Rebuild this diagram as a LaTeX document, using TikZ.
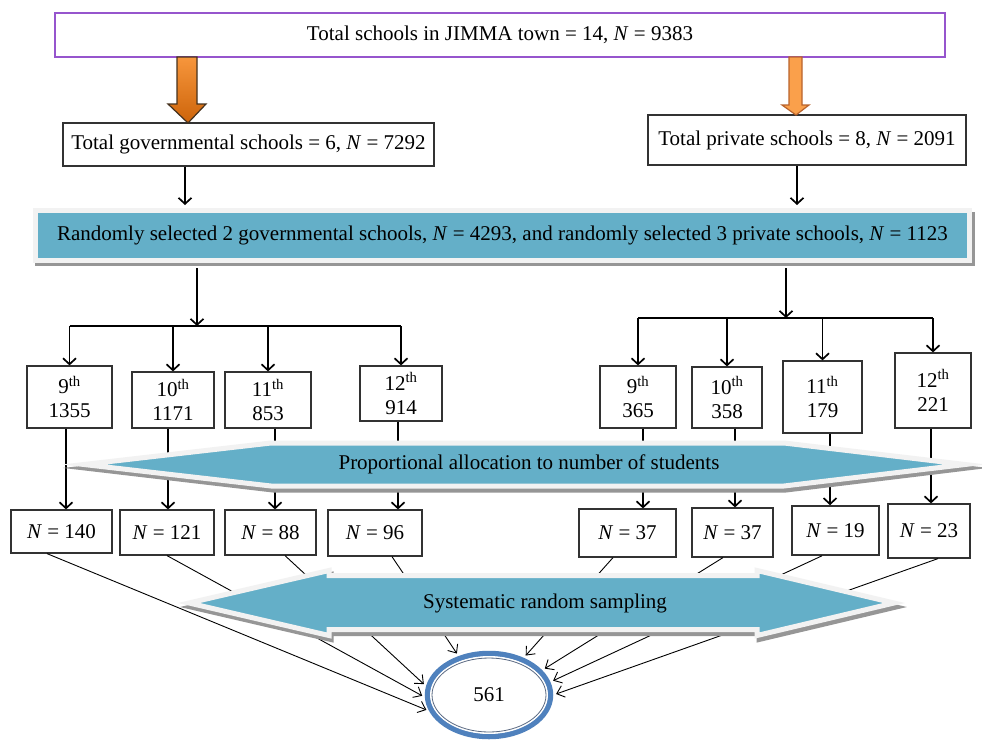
\documentclass[tikz,border=0pt]{standalone}
\usepackage{fontspec}
\setmainfont{Liberation Serif}
\usetikzlibrary{arrows.meta,shapes.geometric,calc}
\definecolor{purp}{RGB}{150,85,205}
\definecolor{boxgray}{RGB}{50,50,50}
\definecolor{bandblue}{RGB}{100,175,200}
\definecolor{lightborder}{RGB}{242,242,242}
\definecolor{shadowgray}{RGB}{150,150,150}
\definecolor{orgtop}{RGB}{247,150,60}
\definecolor{orgbot}{RGB}{205,100,10}
\definecolor{orgline}{RGB}{70,50,30}
\definecolor{orgR}{RGB}{250,160,75}
\definecolor{orgRline}{RGB}{185,100,45}
\definecolor{ringblue}{RGB}{79,129,189}
\definecolor{ringline}{RGB}{90,105,130}
\newcommand\NN{\textit{N}}
\begin{document}
\begin{tikzpicture}[x=1pt,y=-1pt,
  font=\fontsize{21}{24}\selectfont,
  box/.style={draw=boxgray, line width=1.2pt, fill=white, inner sep=0pt, align=center},
  arr/.style={-{Straight Barb[length=6pt,width=13pt]}, line width=1.7pt},
  thinarr/.style={-{Straight Barb[length=7pt,width=12pt]}, line width=0.9pt},
  treeline/.style={line width=1.7pt},
  bandshape/.style={fill=bandblue, draw=lightborder, line width=5pt, miter limit=20},
  shadowshape/.style={fill=shadowgray, draw=shadowgray, line width=5pt, miter limit=20}]
\useasboundingbox (0,0) rectangle (982,739);
\fill[white] (0,0) rectangle (982,739);

% ---- top part
\node[box, draw=purp, line width=1.4pt, minimum width=890pt, minimum height=44pt] (top) at (500,35)
  {Total schools in JIMMA town = 14, \NN{} = 9383};
\node[box, minimum width=371pt, minimum height=43pt] (gov) at (248.5,144.5)
  {Total governmental schools = 6, \NN{} = 7292};
\node[box, draw=boxgray, line width=1.6pt, minimum width=318pt, minimum height=50pt] (priv) at (807,140)
  {Total private schools = 8, \NN{} = 2091};

% orange block arrows
\draw[orgline, line width=1.2pt, top color=orgtop, bottom color=orgbot]
  (177,57) -- (197,57) -- (197,104) -- (206,104) -- (188,123) -- (168,104) -- (177,104) -- cycle;
\draw[orgRline, line width=1.2pt, fill=orgR]
  (789,57) -- (802,57) -- (802,105) -- (809,105) -- (796,115) -- (782,105) -- (789,105) -- cycle;

% ---- band
\fill[shadowgray] (35,212) rectangle (975,266);
\node[fill=bandblue, draw=lightborder, line width=5pt, minimum width=934pt, minimum height=50pt, inner sep=0pt]
  (band) at (502.5,235.5)
  {Randomly selected 2 governmental schools, \NN{} = 4293, and randomly selected 3 private schools, \NN{} = 1123};

\coordinate (gx) at (185,0);
\coordinate (px) at (797,0);
\draw[arr, shorten >=3pt] (gov.south -| gx) -- (band.north -| gx);
\draw[arr, shorten >=3pt] (priv.south -| px) -- (band.north -| px);

% ---- grade boxes
\node[box, minimum width=85pt, minimum height=62pt] (g9L)  at (69.5,397)  {9\textsuperscript{th}\\1355};
\node[box, minimum width=82pt, minimum height=56pt] (g10L) at (173,400)   {10\textsuperscript{th}\\1171};
\node[box, minimum width=86pt, minimum height=56pt] (g11L) at (268,400)   {11\textsuperscript{th}\\853};
\node[box, minimum width=82pt, minimum height=55pt] (g12L) at (401,393.5) {12\textsuperscript{th}\\914};
\node[box, minimum width=76pt, minimum height=62pt] (g9R)  at (638,397)   {9\textsuperscript{th}\\365};
\node[box, minimum width=70pt, minimum height=61pt] (g10R) at (727,397.5) {10\textsuperscript{th}\\358};
\node[box, minimum width=79pt, minimum height=72pt] (g11R) at (822.5,397) {11\textsuperscript{th}\\179};
\node[box, minimum width=76pt, minimum height=75pt] (g12R) at (933,390.5) {12\textsuperscript{th}\\221};

% tree connectors
\coordinate (jl) at (197,326);
\coordinate (jr) at (786,318);
\draw[arr, shorten <=5pt] (band.south -| jl) -- (jl);
\draw[arr, shorten <=5pt] (band.south -| jr) -- (jr);
\draw[treeline] (g9L.north |- jl) -- (g12L.north |- jl);
\draw[treeline] (g9R.north |- jr) -- (g12R.north |- jr);
\foreach \g in {g9L,g10L,g11L,g12L} \draw[arr] (\g.north |- jl) -- (\g.north);
\foreach \g in {g9R,g10R,g11R,g12R} \draw[arr] (\g.north |- jr) -- (\g.north);

% ---- N boxes
\node[box, minimum width=101pt, minimum height=43pt] (n140) at (61.5,531.5) {\NN{} = 140};
\node[box, minimum width=94pt,  minimum height=45pt] (n121) at (167,532.5)  {\NN{} = 121};
\node[box, minimum width=91pt,  minimum height=45pt] (n88)  at (270.5,532.5){\NN{} = 88};
\node[box, minimum width=94pt,  minimum height=46pt] (n96)  at (375,533)    {\NN{} = 96};
\node[box, minimum width=97pt,  minimum height=48pt] (n37a) at (627.5,533)  {\NN{} = 37};
\node[box, minimum width=81pt,  minimum height=49pt] (n37b) at (732.5,532.5){\NN{} = 37};
\node[box, line width=1.6pt, minimum width=87pt,  minimum height=49pt] (n19)  at (835.5,530.5){\NN{} = 19};
\node[box, minimum width=82pt,  minimum height=54pt] (n23)  at (929,531)    {\NN{} = 23};

% grade -> N connectors
\coordinate (v1) at (66,0);  \coordinate (v2) at (168,0);
\coordinate (v3) at (275,0); \coordinate (v4) at (398,0);
\coordinate (v5) at (643,0); \coordinate (v6) at (735,0);
\coordinate (v7) at (830,0); \coordinate (v8) at (931,0);
\draw[arr] (g9L.south -| v1)  -- (n140.north -| v1);
\draw[arr] (g10L.south -| v2) -- (n121.north -| v2);
\draw[arr] (g11L.south -| v3) -- (n88.north -| v3);
\draw[arr] (g12L.south -| v4) -- (n96.north -| v4);
\draw[arr] (g9R.south -| v5)  -- (n37a.north -| v5);
\draw[arr] (g10R.south -| v6) -- (n37b.north -| v6);
\draw[arr] (g11R.south -| v7) -- (n19.north -| v7);
\draw[arr] (g12R.south -| v8) -- (n23.north -| v8);

% ---- proportional allocation double arrow
\path[shadowshape] (85,468) -- (273,447) -- (786,447) -- (967,468) -- (786,490) -- (273,490) -- cycle;
\path[bandshape] (84,464.5) -- (271,443) -- (784,443) -- (965,464.5) -- (784,486) -- (271,486) -- cycle;
\node (prop) at (529,464) {Proportional allocation to number of students};

% ---- result ellipse
\node[ellipse, draw=ringblue, line width=5.5pt, minimum width=123pt, minimum height=83pt, inner sep=0pt]
  (res) at (489,695) {561};
\draw[white, line width=1.5pt] (res.center) ellipse [x radius=58.2, y radius=38.2];
\draw[ringline, line width=0.8pt] (res.center) ellipse [x radius=57, y radius=37];

% N -> result connectors
\draw[thinarr, shorten >=3pt] ([xshift=-14.5pt]n140.south) -- (res.195.3);
\draw[thinarr, shorten >=3pt] (n121.south) -- (res.182.5);
\draw[thinarr, shorten >=3pt] ([xshift=14.5pt]n88.south) -- (res.172.3);
\draw[thinarr, shorten >=3pt] ([xshift=17pt]n96.south) -- (res.128.3);
\draw[thinarr, shorten >=3pt] ([xshift=-14.5pt]n37a.south) -- (res.47.9);
\draw[thinarr, shorten >=3pt] ([xshift=-9.5pt]n37b.south) -- (res.25.7);
\draw[thinarr, shorten >=3pt] ([xshift=-13.5pt]n19.south) -- (res.12);
\draw[thinarr, shorten >=3pt] ([xshift=9pt]n23.south) -- (res.-0.8);

% ---- systematic random sampling double arrow
\path[shadowshape] (191,607) -- (331,574.5) -- (331,579.5) -- (759,579.5) -- (759,574.5) -- (896,607)
  -- (759,639.5) -- (759,633.5) -- (331,633.5) -- (331,639.5) -- cycle;
\path[bandshape] (189,603) -- (329,570.5) -- (329,575.5) -- (757,575.5) -- (757,570.5) -- (894,603)
  -- (757,635.5) -- (757,629.5) -- (329,629.5) -- (329,635.5) -- cycle;
\node (sys) at (545,603) {Systematic random sampling};
\end{tikzpicture}
\end{document}
